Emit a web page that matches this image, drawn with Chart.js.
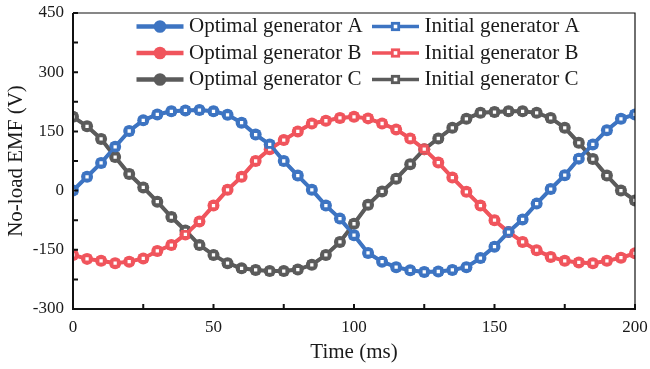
<!DOCTYPE html>
<html>
<head>
<meta charset="utf-8">
<script src="https://cdn.jsdelivr.net/npm/chart.js@4.4.0/dist/chart.umd.min.js"></script>
<style>
  html, body { margin: 0; padding: 0; background: #fff; }
</style>
</head>
<body>
<canvas id="emfChart" width="650" height="369"></canvas>
<script>
// time axis (ms)
const times = [0, 5, 10, 15, 20, 25, 30, 35, 40, 45, 50, 55, 60, 65, 70, 75, 80, 85, 90, 95, 100,
    105, 110, 115, 120, 125, 130, 135, 140, 145, 150, 155, 160, 165, 170, 175, 180, 185, 190, 195, 200];

// no-load EMF (V)
const optimalA = [0, 35, 70, 111, 151, 178, 193, 201, 203, 204, 201, 192, 172, 142, 117, 75, 38, 2, -38, -71, -113,
    -158, -180, -194, -202, -206, -205, -201, -194, -171, -142, -105, -73, -33, 4, 39, 81, 117, 153, 182, 193];
const optimalB = [-163, -173, -178, -184, -180, -172, -153, -138, -111, -78, -38, 2, 35, 75, 105, 128, 150, 170, 177, 184, 187,
    183, 170, 155, 132, 105, 71, 33, -3, -38, -75, -105, -130, -151, -168, -178, -182, -184, -178, -170, -159];
const optimalC = [187, 163, 131, 85, 42, 8, -28, -67, -101, -138, -163, -184, -197, -201, -204, -204, -200, -188, -163, -130, -84,
    -36, -2, 30, 67, 105, 132, 159, 182, 197, 199, 201, 201, 197, 184, 159, 121, 80, 38, 0, -25];

const initialA = [0, 35, 70, 111, 151, 178, 193, 201, 203, 204, 201, 192, 172, 142, 117, 75, 38, 2, -38, -71, -113,
    -158, -180, -194, -202, -206, -205, -201, -194, -171, -142, -105, -73, -33, 4, 39, 81, 117, 153, 182, 193];
const initialB = [-163, -173, -178, -184, -180, -172, -153, -138, -111, -78, -38, 2, 35, 75, 105, 128, 150, 170, 177, 184, 187,
    183, 170, 155, 132, 105, 71, 33, -3, -38, -75, -105, -130, -151, -168, -178, -182, -184, -178, -170, -159];
const initialC = [187, 163, 131, 85, 42, 8, -28, -67, -101, -138, -163, -184, -197, -201, -204, -204, -200, -188, -163, -130, -84,
    -36, -2, 30, 67, 105, 132, 159, 182, 197, 199, 201, 201, 197, 184, 159, 121, 80, 38, 0, -25];

const seriesLabels = ["Optimal generator A", "Initial generator A", "Optimal generator B",
    "Initial generator B", "Optimal generator C", "Initial generator C"];

// tick marks (labels every other one)
const xTickMarks = [0, 25, 50, 75, 100, 125, 150, 175, 200];
const yTickMarks = [-300, -225, -150, -75, 0, 75, 150, 225, 300, 375, 450];

const BLUE = "#3d74c2";
const RED = "#f0545c";
const GRAY = "#5b5b5b";
const FONT = "'Liberation Serif', 'Times New Roman', serif";

function pts(values) {
    return values.map((v, i) => ({ x: times[i], y: v }));
}

function optimal(label, values, color) {
    return {
        label: label,
        data: pts(values),
        borderColor: color,
        backgroundColor: color,
        borderWidth: 4,
        pointStyle: "circle",
        pointRadius: 6,
        pointBorderWidth: 0,
        pointBackgroundColor: color,
        order: 2
    };
}

function initial(label, values, color) {
    return {
        label: label,
        data: pts(values),
        borderColor: color,
        backgroundColor: "#fff",
        borderWidth: 3,
        pointStyle: "rect",
        pointRadius: 4.3,
        pointBorderWidth: 2.8,
        pointBorderColor: color,
        pointBackgroundColor: "#fff",
        order: 1
    };
}

// frame + inward ticks
const frameTicks = {
    id: "frameTicks",
    afterDraw(chart) {
        const { ctx, chartArea: a, scales } = chart;
        ctx.save();
        ctx.strokeStyle = "#111";
        ctx.lineWidth = 1.2;
        ctx.beginPath();
        ctx.moveTo(a.left, a.top); ctx.lineTo(a.right, a.top); ctx.lineTo(a.right, a.bottom);
        ctx.stroke();
        ctx.lineWidth = 2;
        ctx.beginPath();
        ctx.moveTo(a.left, a.top); ctx.lineTo(a.left, a.bottom); ctx.lineTo(a.right + 1, a.bottom);
        yTickMarks.forEach(v => {
            const y = scales.y.getPixelForValue(v);
            ctx.moveTo(a.left, y); ctx.lineTo(a.left + 5, y);
        });
        xTickMarks.forEach(v => {
            const x = scales.x.getPixelForValue(v);
            ctx.moveTo(x, a.bottom); ctx.lineTo(x, a.bottom - 5);
        });
        ctx.stroke();
        ctx.restore();
    }
};

// two-column legend inside the plot
const insideLegend = {
    id: "insideLegend",
    afterDraw(chart) {
        const { ctx } = chart;
        const cols = [136.5, 372];
        const rows = [26.5, 53, 79.5];
        ctx.save();
        ctx.font = "21px " + FONT;
        ctx.textBaseline = "middle";
        chart.data.datasets.forEach((ds, i) => {
            const x0 = cols[i % 2];
            const y = rows[Math.floor(i / 2)];
            const cx = x0 + 23.5;
            ctx.strokeStyle = ds.borderColor;
            ctx.lineWidth = ds.borderWidth + 0.5;
            ctx.beginPath();
            ctx.moveTo(x0, y); ctx.lineTo(x0 + 47, y);
            ctx.stroke();
            if (ds.pointStyle === "circle") {
                ctx.fillStyle = ds.borderColor;
                ctx.beginPath();
                ctx.arc(cx, y, 6.3, 0, Math.PI * 2);
                ctx.fill();
            } else {
                ctx.fillStyle = "#fff";
                ctx.fillRect(cx - 3.2, y - 3.2, 6.4, 6.4);
                ctx.lineWidth = 2.8;
                ctx.strokeRect(cx - 3.2, y - 3.2, 6.4, 6.4);
            }
            ctx.fillStyle = "#1a1a1a";
            ctx.fillText(ds.label, x0 + 52.5, y);
        });
        ctx.restore();
    }
};

const ctx = document.getElementById("emfChart");

new Chart(ctx, {
    type: "line",
    data: {
        datasets: [
            optimal(seriesLabels[0], optimalA, BLUE),
            initial(seriesLabels[1], initialA, BLUE),
            optimal(seriesLabels[2], optimalB, RED),
            initial(seriesLabels[3], initialB, RED),
            optimal(seriesLabels[4], optimalC, GRAY),
            initial(seriesLabels[5], initialC, GRAY)
        ]
    },
    options: {
        responsive: false,
        animation: false,
        devicePixelRatio: 1,
        layout: { padding: { left: 0, right: 15, top: 13, bottom: 0 } },
        plugins: {
            legend: { display: false },
            tooltip: { enabled: false }
        },
        scales: {
            x: {
                type: "linear",
                min: 0,
                max: 200,
                afterFit: s => { s.height = 60; s.paddingLeft = 0; s.paddingRight = 0; },
                grid: { display: false, drawTicks: false },
                border: { display: false },
                ticks: {
                    stepSize: 50,
                    padding: 8,
                    color: "#1a1a1a",
                    font: { family: FONT, size: 17 }
                },
                title: {
                    display: true,
                    text: "Time (ms)",
                    color: "#1a1a1a",
                    padding: { top: 0, bottom: 4 },
                    font: { family: FONT, size: 21 }
                }
            },
            y: {
                min: -300,
                max: 450,
                afterFit: s => { s.width = 73; s.paddingTop = 0; s.paddingBottom = 0; },
                grid: { display: false, drawTicks: false },
                border: { display: false },
                ticks: {
                    stepSize: 150,
                    padding: 9,
                    color: "#1a1a1a",
                    font: { family: FONT, size: 17 }
                },
                title: {
                    display: true,
                    text: "No-load EMF (V)",
                    color: "#1a1a1a",
                    padding: { top: 4, bottom: 0 },
                    font: { family: FONT, size: 21 }
                }
            }
        }
    },
    plugins: [frameTicks, insideLegend]
});
</script>
</body>
</html>
